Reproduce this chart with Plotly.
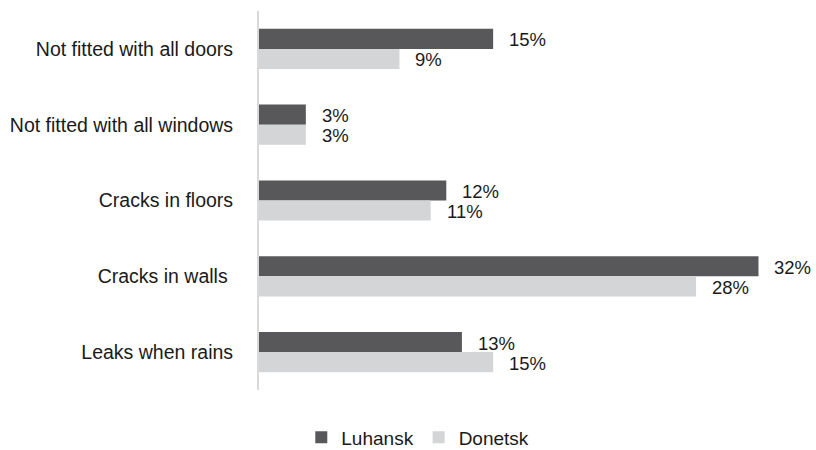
import plotly.graph_objects as go

categories = [
    "Not fitted with all doors",
    "Not fitted with all windows",
    "Cracks in floors",
    "Cracks in walls\u00a0",
    "Leaks when rains",
]
luhansk = [15, 3, 12, 32, 13]
donetsk = [9, 3, 11, 28, 15]

series = [
    ("Luhansk", luhansk, "#58585a", 9),
    ("Donetsk", donetsk, "#d4d5d7", -11),
]

FONT = "Liberation Sans, Arial, sans-serif"
TEXT = "#1a1a1a"

fig = go.Figure()
annotations = []
for name, vals, color, dy in series:
    fig.add_trace(go.Bar(
        name=name, y=categories, x=vals, orientation="h",
        marker=dict(color=color, line=dict(width=0)),
        hoverinfo="skip",
    ))
    for cat, v in zip(categories, vals):
        annotations.append(dict(
            x=v, y=cat, xref="x", yref="y", text=f"{v}%",
            showarrow=False, xanchor="left", yanchor="middle",
            xshift=14, yshift=dy,
            font=dict(family=FONT, size=18.5, color=TEXT),
        ))

fig.update_layout(
    width=816, height=450,
    margin=dict(l=259, r=6, t=11, b=60),
    paper_bgcolor="white", plot_bgcolor="white",
    barmode="group", bargap=0.47, bargroupgap=0,
    font=dict(family=FONT, size=19.5, color=TEXT),
    annotations=annotations,
    showlegend=True,
    legend=dict(
        orientation="h", xref="container", yref="container",
        x=0.512, xanchor="center", y=0.028, yanchor="middle",
        font=dict(family=FONT, size=19, color=TEXT),
        itemwidth=30, tracegroupgap=0,
    ),
    xaxis=dict(
        range=[0, 35.3], showgrid=False, zeroline=False,
        showticklabels=False, ticks="", showline=False, fixedrange=True,
    ),
    yaxis=dict(
        autorange="reversed", showgrid=False, zeroline=False,
        ticks="", showline=True, linecolor="#d9d9d9", linewidth=2,
        ticklabelstandoff=20,
        tickfont=dict(family=FONT, size=19.5, color=TEXT),
    ),
)

fig.write_html("out.html")
